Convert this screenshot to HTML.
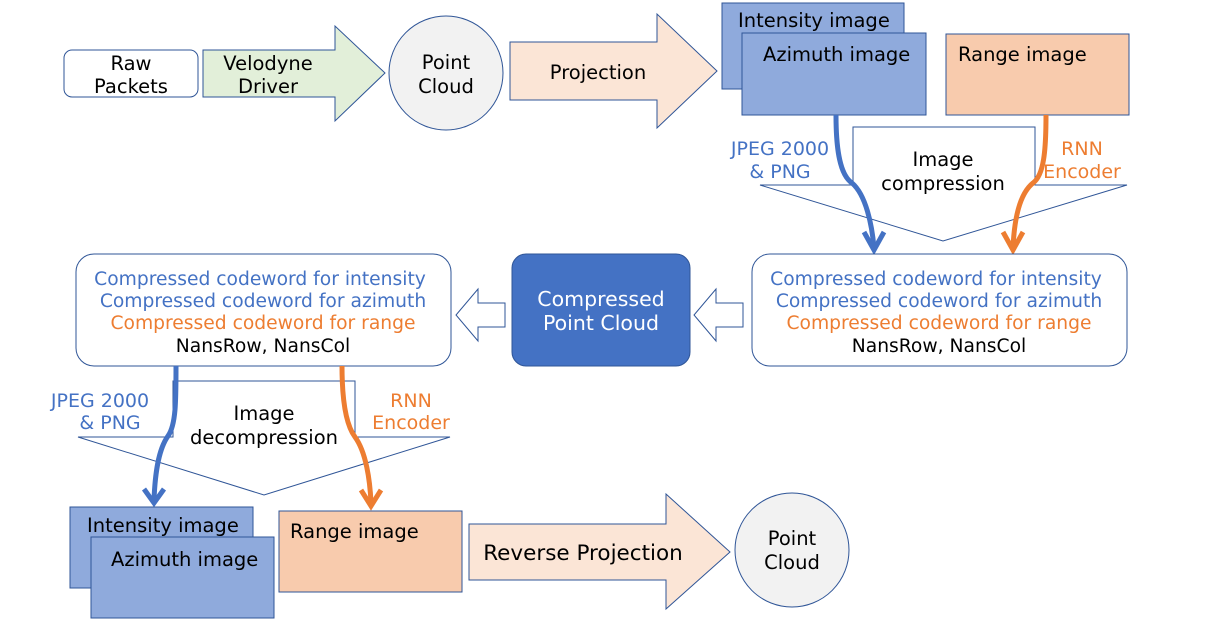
<!DOCTYPE html>
<html><head><meta charset="utf-8"><style>
html,body{margin:0;padding:0;background:#fff;}
svg{display:block;}
text{font-family:"DejaVu Sans","Liberation Sans",sans-serif;}
</style></head><body>
<svg width="1226" height="624" viewBox="0 0 1226 624" xmlns="http://www.w3.org/2000/svg">
<!-- Raw packets -->
<rect x="64" y="50" width="134" height="47" rx="8" fill="#fff" stroke="#2f5597" stroke-width="1"/>
<text x="131" y="70" font-size="19.5" text-anchor="middle">Raw</text>
<text x="131" y="93" font-size="19.5" text-anchor="middle">Packets</text>
<!-- Velodyne arrow -->
<polygon points="203,50 335,50 335,26 385,73 335,121 335,97 203,97" fill="#e2efd9" stroke="#2f5597" stroke-width="1"/>
<text x="268" y="70" font-size="19.5" text-anchor="middle">Velodyne</text>
<text x="268" y="93" font-size="19.5" text-anchor="middle">Driver</text>
<!-- Point cloud -->
<circle cx="446" cy="73" r="57" fill="#f2f2f2" stroke="#2f5597"/>
<text x="446" y="69" font-size="19.5" text-anchor="middle">Point</text>
<text x="446" y="93" font-size="19.5" text-anchor="middle">Cloud</text>
<!-- Projection -->
<polygon points="510,42 657,42 657,14 717,71 657,128 657,100 510,100" fill="#fbe5d6" stroke="#2f5597"/>
<text x="598" y="79" font-size="19.5" text-anchor="middle">Projection</text>
<!-- images top -->
<rect x="722" y="3" width="182" height="86" fill="#8faadc" stroke="#2f5597"/>
<text x="738" y="27" font-size="19.5">Intensity image</text>
<rect x="742" y="33" width="184" height="82" fill="#8faadc" stroke="#2f5597"/>
<text x="763" y="61" font-size="19.5">Azimuth image</text>
<rect x="946" y="34" width="183" height="81" fill="#f8cbad" stroke="#2f5597"/>
<text x="958" y="61" font-size="19.5">Range image</text>
<!-- compression shape -->
<polygon points="853,185 853,127 1035,127 1035,185 1127,185 943,241 760,185" fill="#fff" stroke="#2f5597" stroke-width="1"/>
<text x="943" y="166" font-size="19.5" text-anchor="middle">Image</text>
<text x="943" y="190" font-size="19.5" text-anchor="middle">compression</text>
<text x="780" y="155" font-size="19" text-anchor="middle" fill="#4472c4">JPEG 2000</text>
<text x="780" y="178" font-size="19" text-anchor="middle" fill="#4472c4">&amp; PNG</text>
<text x="1082" y="155" font-size="19" text-anchor="middle" fill="#ed7d31">RNN</text>
<text x="1082" y="178" font-size="19" text-anchor="middle" fill="#ed7d31">Encoder</text>
<path d="M836,115 C836,150 840,175 852,183 C866,195 872,225 874,248" fill="none" stroke="#4472c4" stroke-width="5"/>
<polyline points="864,232 874,250 884,232" fill="none" stroke="#4472c4" stroke-width="5"/>
<path d="M1046,115 C1046,150 1044,175 1033,183 C1018,195 1014,225 1013,248" fill="none" stroke="#ed7d31" stroke-width="5"/>
<polyline points="1003,232 1013,250 1023,232" fill="none" stroke="#ed7d31" stroke-width="5"/>
<!-- right codeword box -->
<rect x="752" y="254" width="375" height="112" rx="18" fill="#fff" stroke="#2f5597"/>
<text x="936" y="285" font-size="18.7" text-anchor="middle" fill="#4472c4">Compressed codeword for intensity</text>
<text x="939" y="307" font-size="18.7" text-anchor="middle" fill="#4472c4">Compressed codeword for azimuth</text>
<text x="939" y="329" font-size="18.7" text-anchor="middle" fill="#ed7d31">Compressed codeword for range</text>
<text x="939" y="352" font-size="18.7" text-anchor="middle">NansRow, NansCol</text>
<!-- hollow arrows -->
<polygon points="743,303 716,303 716,289 694,315 716,341 716,327 743,327" fill="#fff" stroke="#2f5597"/>
<polygon points="505,303 478,303 478,289 456,315 478,341 478,327 505,327" fill="#fff" stroke="#2f5597"/>
<!-- compressed point cloud -->
<rect x="512" y="254" width="178" height="112" rx="14" fill="#4472c4" stroke="#2f5597"/>
<text x="601" y="306" font-size="20.5" text-anchor="middle" fill="#fff">Compressed</text>
<text x="601" y="330" font-size="20.5" text-anchor="middle" fill="#fff">Point Cloud</text>
<!-- left codeword box -->
<rect x="76" y="254" width="375" height="112" rx="18" fill="#fff" stroke="#2f5597"/>
<text x="260" y="285" font-size="18.7" text-anchor="middle" fill="#4472c4">Compressed codeword for intensity</text>
<text x="263" y="307" font-size="18.7" text-anchor="middle" fill="#4472c4">Compressed codeword for azimuth</text>
<text x="263" y="329" font-size="18.7" text-anchor="middle" fill="#ed7d31">Compressed codeword for range</text>
<text x="263" y="352" font-size="18.7" text-anchor="middle">NansRow, NansCol</text>
<!-- decompression shape -->
<polygon points="173,437 173,381 355,381 355,437 450,437 264,495 78,437" fill="#fff" stroke="#2f5597"/>
<text x="264" y="420" font-size="19.5" text-anchor="middle">Image</text>
<text x="264" y="444" font-size="19.5" text-anchor="middle">decompression</text>
<text x="100" y="407" font-size="19" text-anchor="middle" fill="#4472c4">JPEG 2000</text>
<text x="110" y="429" font-size="19" text-anchor="middle" fill="#4472c4">&amp; PNG</text>
<text x="411" y="407" font-size="19" text-anchor="middle" fill="#ed7d31">RNN</text>
<text x="411" y="429" font-size="19" text-anchor="middle" fill="#ed7d31">Encoder</text>
<path d="M176,366 C176,400 176,425 168,436 C158,450 155,475 154,500" fill="none" stroke="#4472c4" stroke-width="5"/>
<polyline points="144,489 154,503 164,489" fill="none" stroke="#4472c4" stroke-width="5"/>
<path d="M342,366 C342,400 346,425 355,437 C366,452 370,480 371,503" fill="none" stroke="#ed7d31" stroke-width="5"/>
<polyline points="361,490 371,506 381,490" fill="none" stroke="#ed7d31" stroke-width="5"/>
<!-- bottom images -->
<rect x="70" y="507" width="183" height="81" fill="#8faadc" stroke="#2f5597"/>
<text x="87" y="532" font-size="19.5">Intensity image</text>
<rect x="91" y="537" width="183" height="81" fill="#8faadc" stroke="#2f5597"/>
<text x="111" y="566" font-size="19.5">Azimuth image</text>
<rect x="279" y="511" width="183" height="81" fill="#f8cbad" stroke="#2f5597"/>
<text x="290" y="538" font-size="19.5">Range image</text>
<!-- reverse projection -->
<polygon points="469,524 666,524 666,494 730,552 666,609 666,580 469,580" fill="#fbe5d6" stroke="#2f5597"/>
<text x="583" y="560" font-size="21.5" text-anchor="middle">Reverse Projection</text>
<circle cx="792" cy="550" r="57" fill="#f2f2f2" stroke="#2f5597"/>
<text x="792" y="545" font-size="19.5" text-anchor="middle">Point</text>
<text x="792" y="569" font-size="19.5" text-anchor="middle">Cloud</text>
</svg>
</body></html>
